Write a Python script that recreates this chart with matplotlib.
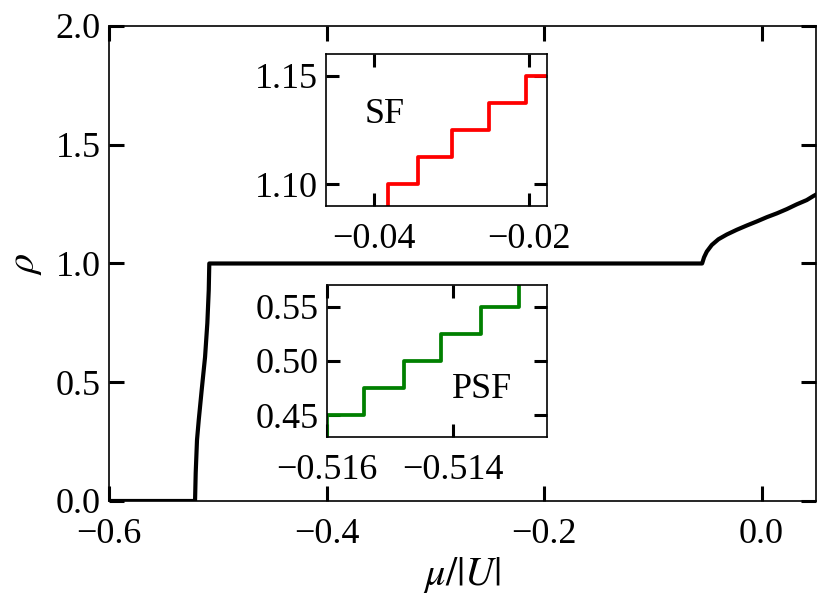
import matplotlib
matplotlib.use("Agg")
import matplotlib.pyplot as plt

plt.rcParams['font.family'] = ['Liberation Serif', 'DejaVu Serif']
plt.rcParams['mathtext.fontset'] = 'stix'

# main curve rho(mu)
mu_main = [-0.6, -0.5209, -0.5203, -0.5191, -0.5175, -0.5148, -0.5117, -0.5096,
           -0.5083, -0.5078, -0.0547, -0.0529, -0.0504, -0.0458, -0.0397,
           -0.0320, -0.0228, -0.0136, -0.0044, 0.0048, 0.0140, 0.0232,
           0.0323, 0.0415, 0.0476, 0.05]
rho_main = [0.0, 0.0, 0.118, 0.257, 0.341, 0.467, 0.606, 0.749,
            0.888, 1.0, 1.0, 1.026, 1.050, 1.078, 1.102,
            1.122, 1.142, 1.160, 1.177, 1.195, 1.211, 1.229,
            1.249, 1.267, 1.284, 1.29]

# SF inset staircase (steps-post)
mu_sf = [-0.0382, -0.0382, -0.0343, -0.0299, -0.0252, -0.0204, -0.0170]
rho_sf = [1.0875, 1.10, 1.1125, 1.125, 1.1375, 1.15, 1.15]

# PSF inset staircase (steps-post)
mu_psf = [-0.5161, -0.5160, -0.51542, -0.51478, -0.51418, -0.51355, -0.51294, -0.5120]
rho_psf = [0.425, 0.45, 0.475, 0.50, 0.525, 0.55, 0.575, 0.575]

main_xticks = [-0.6, -0.4, -0.2, 0.0]
main_yticks = [0.0, 0.5, 1.0, 1.5, 2.0]
sf_xticks = [-0.04, -0.02]
sf_yticks = [1.10, 1.15]
psf_xticks = [-0.516, -0.514]
psf_yticks = [0.45, 0.50, 0.55]

FS = 26


def style_axes(ax, ticklen):
    ax.tick_params(direction='in', top=True, right=True, length=ticklen,
                   width=2.2, labelsize=FS)
    ax.tick_params(axis='x', pad=12)
    ax.tick_params(axis='y', pad=6)
    for s in ax.spines.values():
        s.set_linewidth(1.2)


fig = plt.figure(figsize=(8.29, 6.10), dpi=100)
ax = fig.add_axes([0.1315, 0.1787, 0.8528, 0.7787])
ax.plot(mu_main, rho_main, color='black', lw=3.0)
ax.set_xlim(-0.6, 0.05)
ax.set_ylim(0, 2.0)
ax.set_xticks(main_xticks)
ax.set_yticks(main_yticks)
ax.set_xticklabels([f"{v:.1f}".replace('-', '\u2212') for v in main_xticks])
ax.set_yticklabels([f"{v:.1f}" for v in main_yticks])
style_axes(ax, 11)
ax.set_xlabel(r'$\mu/|U|$', fontsize=29, labelpad=3)
ax.set_ylabel(r'$\rho$', fontsize=29, labelpad=8)

# SF inset
ax1 = fig.add_axes([0.3932, 0.6623, 0.2666, 0.2492])
ax1.plot(mu_sf, rho_sf, color='red', lw=2.7, drawstyle='steps-post')
ax1.set_xlim(-0.0462, -0.0177)
ax1.set_ylim(1.09, 1.16)
ax1.set_xticks(sf_xticks)
ax1.set_yticks(sf_yticks)
ax1.set_xticklabels([f"{v:.2f}".replace('-', '\u2212') for v in sf_xticks])
ax1.set_yticklabels([f"{v:.2f}" for v in sf_yticks])
style_axes(ax1, 9.5)
ax1.text(0.267, 0.605, 'SF', transform=ax1.transAxes, fontsize=FS,
         ha='center', va='center')

# PSF inset
ax2 = fig.add_axes([0.3945, 0.2836, 0.2654, 0.2492])
ax2.plot(mu_psf, rho_psf, color='green', lw=2.7, drawstyle='steps-post')
ax2.set_xlim(-0.516, -0.5125)
ax2.set_ylim(0.43, 0.57)
ax2.set_xticks(psf_xticks)
ax2.set_yticks(psf_yticks)
ax2.set_xticklabels([f"{v:.3f}".replace('-', '\u2212') for v in psf_xticks])
ax2.set_yticklabels([f"{v:.2f}" for v in psf_yticks])
style_axes(ax2, 9.5)
ax2.text(0.705, 0.31, 'PSF', transform=ax2.transAxes, fontsize=FS,
         ha='center', va='center')

fig.savefig('out.png', dpi=100)
